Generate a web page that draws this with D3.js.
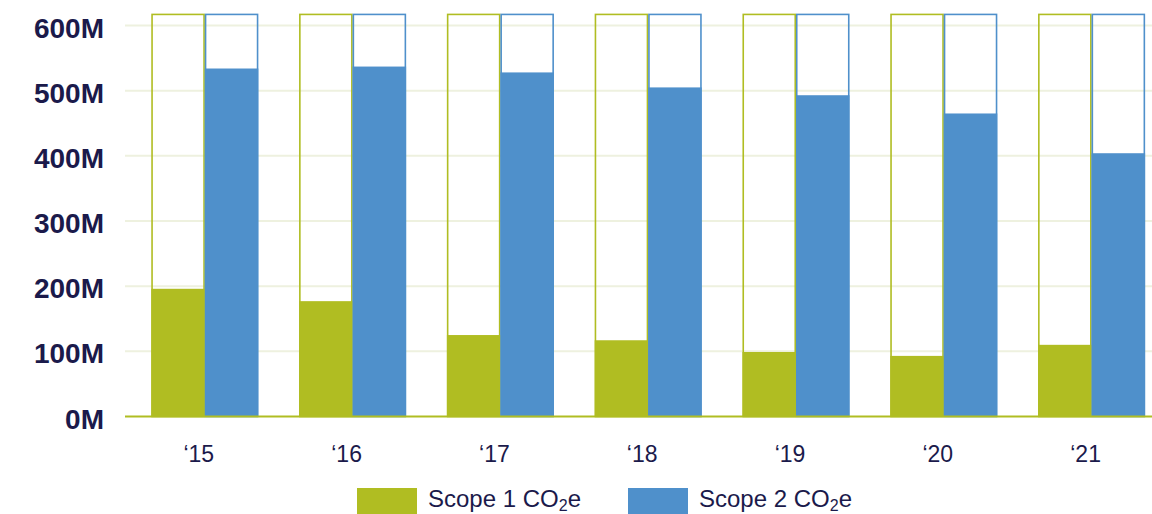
<!DOCTYPE html>
<html>
<head>
<meta charset="utf-8">
<script src="https://cdn.jsdelivr.net/npm/d3@7"></script>
<style>
  html, body { margin: 0; padding: 0; background: #fff; }
  svg { display: block; }
  text { font-family: "Liberation Sans", Arial, Helvetica, sans-serif; }
</style>
</head>
<body>
<svg id="chart" width="1152" height="514"></svg>
<script>
const categories = ["‘15", "‘16", "‘17", "‘18", "‘19", "‘20", "‘21"];
const scope1 = [196, 177, 125, 117, 99, 93, 110];
const scope2 = [534, 537, 528, 505, 493, 465, 404];
const outlineValue = 617;
const yTicks = [0, 100, 200, 300, 400, 500, 600];
const yTickLabels = ["0M", "100M", "200M", "300M", "400M", "500M", "600M"];
const seriesNames = ["Scope 1", "Scope 2"];

const green = "#b0bd22";
const blue = "#4f90cb";
const navy = "#1b1a4b";
const gridColor = "#eef1df";

const svg = d3.select("#chart");

const y = d3.scaleLinear().domain([0, 600]).range([416.5, 25.5]);
const x = d3.scaleBand().domain(categories).range([125, 1171.4])
  .paddingInner(0.276).paddingOuter(0.178);
const xs = d3.scaleBand().domain(seriesNames).range([0, x.bandwidth()]).padding(0);

// gridlines
svg.append("g").selectAll("line").data(yTicks.filter(d => d > 0)).join("line")
  .attr("x1", 125).attr("x2", 1152)
  .attr("y1", d => y(d)).attr("y2", d => y(d))
  .attr("stroke", gridColor).attr("stroke-width", 2);

// y-axis labels
svg.append("g").selectAll("text").data(yTicks).join("text")
  .attr("x", 104).attr("y", d => y(d) + 12)
  .attr("text-anchor", "end")
  .attr("font-size", 28).attr("font-weight", "bold")
  .attr("fill", navy)
  .text((d, i) => yTickLabels[i]);

const groups = svg.append("g").selectAll("g").data(categories).join("g")
  .attr("transform", d => `translate(${x(d)},0)`);

// outline (background) bars
groups.append("rect")
  .attr("x", xs("Scope 1") + 0.75).attr("width", xs.bandwidth() - 1.5)
  .attr("y", y(outlineValue)).attr("height", y(0) - y(outlineValue))
  .attr("fill", "none").attr("stroke", green).attr("stroke-width", 1.6);
groups.append("rect")
  .attr("x", xs("Scope 2") + 0.75).attr("width", xs.bandwidth() - 1.5)
  .attr("y", y(outlineValue)).attr("height", y(0) - y(outlineValue))
  .attr("fill", "none").attr("stroke", blue).attr("stroke-width", 1.6);

// value bars
groups.append("rect")
  .attr("x", xs("Scope 1")).attr("width", xs.bandwidth())
  .attr("y", (d, i) => y(scope1[i])).attr("height", (d, i) => y(0) - y(scope1[i]))
  .attr("fill", green);
groups.append("rect")
  .attr("x", xs("Scope 2")).attr("width", xs.bandwidth())
  .attr("y", (d, i) => y(scope2[i])).attr("height", (d, i) => y(0) - y(scope2[i]))
  .attr("fill", blue);

// baseline
svg.append("line")
  .attr("x1", 125).attr("x2", 1152).attr("y1", y(0)).attr("y2", y(0))
  .attr("stroke", green).attr("stroke-width", 2.2);

// x labels
svg.append("g").selectAll("text").data(categories).join("text")
  .attr("x", d => x(d) + x.bandwidth() / 2 - 6)
  .attr("y", 462)
  .attr("text-anchor", "middle")
  .attr("font-size", 23)
  .attr("fill", navy)
  .text(d => d);

// legend
const legendItems = [
  { name: seriesNames[0], color: green, sx: 357, tx: 428 },
  { name: seriesNames[1], color: blue, sx: 628, tx: 699 }
];
const lg = svg.append("g").selectAll("g").data(legendItems).join("g");
lg.append("rect")
  .attr("x", d => d.sx).attr("y", 488).attr("width", 60).attr("height", 28)
  .attr("fill", d => d.color);
const lt = lg.append("text")
  .attr("x", d => d.tx).attr("y", 507)
  .attr("font-size", 24).attr("fill", navy);
lt.append("tspan").text(d => d.name + " CO");
lt.append("tspan").attr("font-size", 16).attr("dy", 4).text("2");
lt.append("tspan").attr("dy", -4).text("e");
</script>
</body>
</html>
